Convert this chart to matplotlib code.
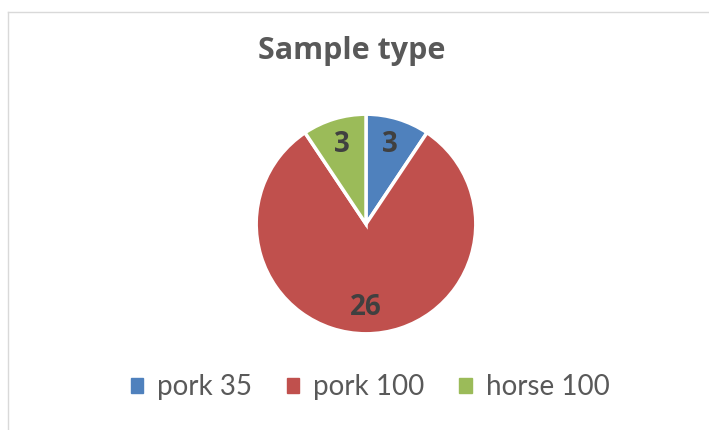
import matplotlib
matplotlib.use("Agg")
import matplotlib.pyplot as plt
from matplotlib.patches import Rectangle
from matplotlib.lines import Line2D

categories = ["pork 35", "pork 100", "horse 100"]
values = [3, 26, 3]
colors = ["#4F81BD", "#C0504D", "#9BBB59"]
title = "Sample type"

plt.rcParams['font.family'] = ['Lato', 'DejaVu Sans']

W, H = 709, 430
fig = plt.figure(figsize=(W / 100, H / 100), dpi=100)

# chart border (light gray)
fig.add_artist(Line2D([8 / W, 8 / W], [0, 1 - 12 / H], transform=fig.transFigure, color="#D9D9D9", lw=1))
fig.add_artist(Line2D([8 / W, 1], [1 - 12 / H, 1 - 12 / H], transform=fig.transFigure, color="#D9D9D9", lw=1))

cx, cy, r = 366, 224, 112
ax = fig.add_axes([(cx - r) / W, (H - cy - r) / H, 2 * r / W, 2 * r / H])
total = sum(values)
wedges, texts, autotexts = ax.pie(
    values, colors=colors, startangle=90, counterclock=False,
    wedgeprops=dict(edgecolor="white", linewidth=2.5),
    autopct=lambda p: f"{round(p * total / 100):d}", pctdistance=0.76,
    textprops=dict(fontsize=20, fontweight="bold", color="#404040",
                   family=['Open Sans', 'DejaVu Sans']))
ax.set_xlim(-1.02, 1.02)
ax.set_ylim(-1.02, 1.02)
ax.set_aspect("equal")
ax.axis("off")

fig.text(352 / W, 1 - 51 / H, title, ha="center", va="center",
         fontsize=22, fontweight="bold", color="#595959",
         family=['Open Sans', 'DejaVu Sans'])

handles = [Rectangle((0, 0), 1, 1, color=c) for c in colors]
fig.legend(handles, categories, loc="center", bbox_to_anchor=(370 / W, 1 - 387 / H),
           ncol=3, frameon=False, fontsize=20, labelcolor="#595959",
           handlelength=0.45, handleheight=0.45, handletextpad=0.5, columnspacing=1.25)

fig.savefig("out.png", dpi=100, facecolor="white")
